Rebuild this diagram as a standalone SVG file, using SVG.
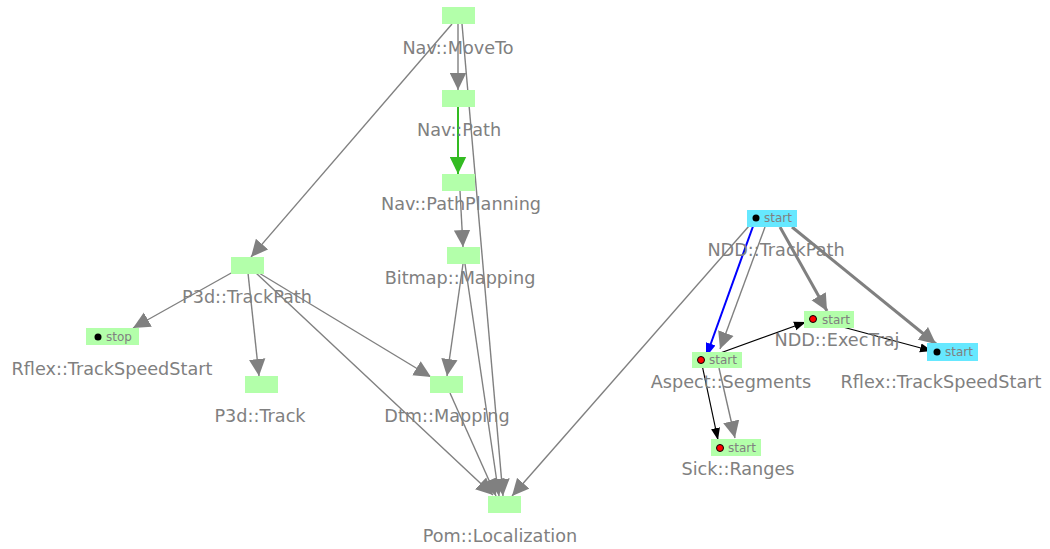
<svg xmlns="http://www.w3.org/2000/svg" width="1050" height="549" viewBox="0 0 1050 549">
<style>
.lbl{font-family:"DejaVu Sans",sans-serif;font-size:17.65px;fill:#808080;text-anchor:middle}
.sm{font-family:"DejaVu Sans",sans-serif;font-size:12px;fill:#808080}
.g{fill:#b3ffaa}
.c{fill:#66e8ff}
.e{fill:none;stroke:#808080;stroke-width:1.4}
.et{fill:none;stroke:#808080;stroke-width:3}
.eb{fill:none;stroke:#000;stroke-width:1.2}
.dk{fill:#000}
.dr{fill:#ff0000;stroke:#000;stroke-width:1}
</style>
<defs>
<marker id="aG" markerUnits="userSpaceOnUse" markerWidth="17" markerHeight="17" viewBox="0 0 17 17" refX="17" refY="8.5" orient="auto"><path d="M0,0.3 L17,8.5 L0,16.7 z" fill="#808080"/></marker>
<marker id="aGr" markerUnits="userSpaceOnUse" markerWidth="17" markerHeight="17" viewBox="0 0 17 17" refX="17" refY="8.5" orient="auto"><path d="M0,0.3 L17,8.5 L0,16.7 z" fill="#33bb22"/></marker>
<marker id="aB" markerUnits="userSpaceOnUse" markerWidth="12" markerHeight="10" viewBox="0 0 12 10" refX="12" refY="5" orient="auto"><path d="M0,0.5 L12,5 L0,9.5 z" fill="#000"/></marker>
<marker id="aBl" markerUnits="userSpaceOnUse" markerWidth="14" markerHeight="11" viewBox="0 0 14 11" refX="14" refY="5.5" orient="auto"><path d="M0,0.5 L14,5.5 L0,10.5 z" fill="#0000ff"/></marker>
</defs>
<g id="connectors">
<path class="e" d="M458,24 L458,90" marker-end="url(#aG)"/>
<path class="e" d="M452,24 L251,257" marker-end="url(#aG)"/>
<path class="e" d="M462,24 L503,496" marker-end="url(#aG)"/>
<path d="M458,107 L458,174" fill="none" stroke="#33bb22" stroke-width="2" marker-end="url(#aGr)"/>
<path class="e" d="M460,191 L463,247" marker-end="url(#aG)"/>
<path class="e" d="M463,264 L447,376" marker-end="url(#aG)"/>
<path class="e" d="M465,264 L499,496" marker-end="url(#aG)"/>
<path class="e" d="M450,393 L496,496" marker-end="url(#aG)"/>
<path class="e" d="M259,273 L431,377" marker-end="url(#aG)"/>
<path class="e" d="M256,273 L493,495" marker-end="url(#aG)"/>
<path class="e" d="M233,272 L133,328" marker-end="url(#aG)"/>
<path class="e" d="M248,273 L259,376" marker-end="url(#aG)"/>
<path class="e" d="M749,226 L512,496" marker-end="url(#aG)"/>
<path d="M756,218 L706,357" fill="none" stroke="#0000ff" stroke-width="2" marker-end="url(#aBl)"/>
<path class="e" d="M765,227 L720,349" marker-end="url(#aG)"/>
<path class="et" d="M780,227 L827,311" marker-end="url(#aG)"/>
<path class="et" d="M792,227 L936,344" marker-end="url(#aG)"/>
<path class="eb" d="M701,360 L806,322" marker-end="url(#aB)"/>
<path class="eb" d="M813,319 L932,351" marker-end="url(#aB)"/>
<path class="eb" d="M701,360 L718,440" marker-end="url(#aB)"/>
<path class="e" d="M719,368 L735,438" marker-end="url(#aG)"/>
</g>
<g id="nav-moveto"><rect class="g" x="442" y="7" width="33" height="17"/><text class="lbl" x="458" y="54">Nav::MoveTo</text></g>
<g id="nav-path"><rect class="g" x="442" y="90" width="33" height="17"/><text class="lbl" x="459" y="136">Nav::Path</text></g>
<g id="nav-pathplanning"><rect class="g" x="442" y="174" width="33" height="17"/><text class="lbl" x="461" y="210">Nav::PathPlanning</text></g>
<g id="bitmap-mapping"><rect class="g" x="447" y="247" width="33" height="17"/><text class="lbl" x="460" y="284">Bitmap::Mapping</text></g>
<g id="dtm-mapping"><rect class="g" x="430" y="376" width="33" height="17"/><text class="lbl" x="447" y="422">Dtm::Mapping</text></g>
<g id="pom-localization"><rect class="g" x="488" y="496" width="33" height="17"/><text class="lbl" x="500" y="542">Pom::Localization</text></g>
<g id="p3d-trackpath"><rect class="g" x="231" y="257" width="33" height="17"/><text class="lbl" x="247" y="303">P3d::TrackPath</text></g>
<g id="p3d-track"><rect class="g" x="245" y="376" width="33" height="17"/><text class="lbl" x="260" y="422">P3d::Track</text></g>
<g id="rflex-trackspeedstart-left"><rect class="g" x="86" y="328" width="53" height="17"/><circle class="dk" cx="98" cy="337" r="3.5"/><text class="sm" x="106" y="341">stop</text><text class="lbl" x="112" y="375">Rflex::TrackSpeedStart</text></g>
<g id="ndd-trackpath"><rect class="c" x="747" y="210" width="50" height="17"/><circle class="dk" cx="756" cy="218" r="3.5"/><text class="sm" x="764" y="222">start</text><text class="lbl" x="776" y="256">NDD::TrackPath</text></g>
<g id="ndd-exectraj"><rect class="g" x="804" y="311" width="50" height="17"/><circle class="dr" cx="813" cy="319" r="3.5"/><text class="sm" x="822" y="324">start</text><text class="lbl" x="837" y="346">NDD::ExecTraj</text></g>
<g id="rflex-trackspeedstart-right"><rect class="c" x="927" y="343" width="51" height="18"/><circle class="dk" cx="937" cy="352" r="3.5"/><text class="sm" x="945" y="356">start</text><text class="lbl" x="941" y="388">Rflex::TrackSpeedStart</text></g>
<g id="aspect-segments"><rect class="g" x="692" y="352" width="50" height="16"/><circle class="dr" cx="701" cy="360" r="3.5"/><text class="sm" x="709" y="364">start</text><text class="lbl" x="731" y="388">Aspect::Segments</text></g>
<g id="sick-ranges"><rect class="g" x="711" y="439" width="50" height="17"/><circle class="dr" cx="720" cy="448" r="3.5"/><text class="sm" x="728" y="452">start</text><text class="lbl" x="738" y="475">Sick::Ranges</text></g>
</svg>
